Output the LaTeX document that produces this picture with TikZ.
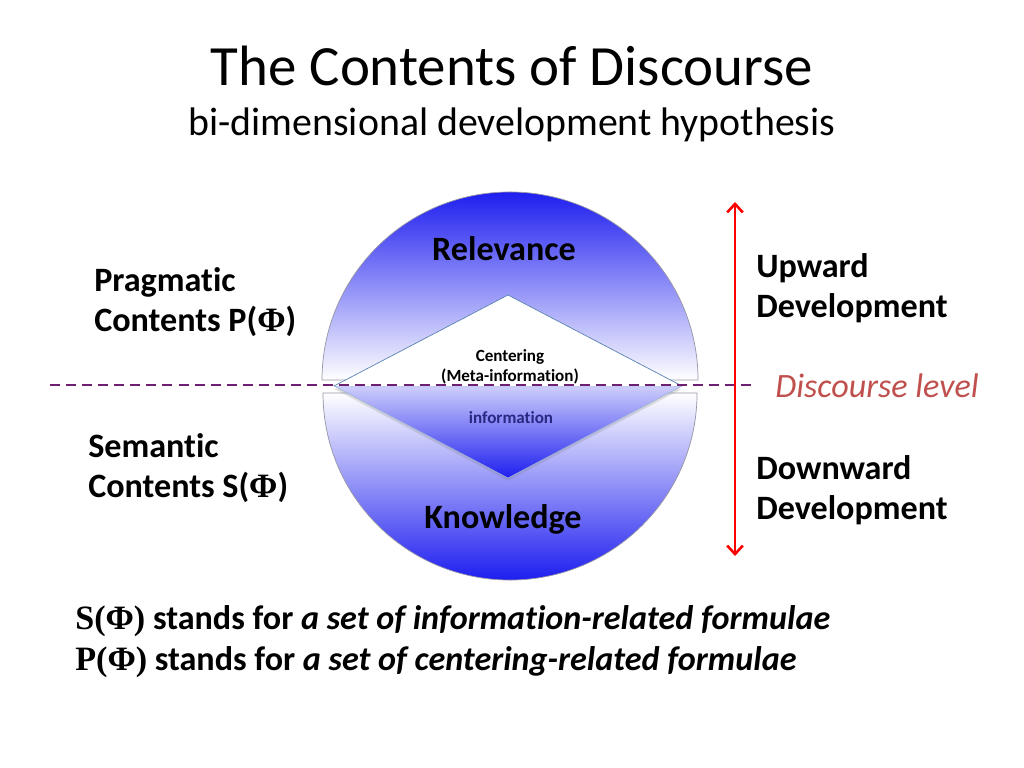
\documentclass[tikz,border=0pt]{standalone}
\usepackage{fontspec}
\setmainfont{Carlito}[Ligatures=NoCommon]
\newfontfamily\phifont{Liberation Serif}
\usetikzlibrary{arrows.meta, positioning, shadows}
\definecolor{discblue}{RGB}{30,30,240}
\definecolor{lvlpurple}{RGB}{112,32,112}
\definecolor{lvlred}{RGB}{192,80,77}
\definecolor{infonavy}{RGB}{40,40,130}
\definecolor{edgegray}{RGB}{150,150,165}
\definecolor{diamedge}{RGB}{90,130,180}
\newcommand{\phib}{{\phifont\bfseries Φ}}
\newcommand{\fsz}[2]{\fontsize{#1}{#2}\selectfont}

\begin{document}
\begin{tikzpicture}[x=0.703125pt, y=-0.703125pt,
    lbl/.style={inner sep=0pt, align=left, anchor=west, font=\fsz{24}{28.5}\bfseries},
    half/.style={draw=edgegray, line width=0.5pt}]
  \useasboundingbox (0,0) rectangle (1024,768);

  % title
  \node[font=\fsz{40}{48}] (title) at (512,66) {The Contents of Discourse};
  \node[font=\fsz{28}{34}] (subtitle) at (512,125) {bi-dimensional development hypothesis};

  % two halves of the disc
  \shade[half, top color=discblue, middle color=discblue!60!white, bottom color=white]
    (322,380) arc[start angle=180, end angle=0, radius=132.2pt] -- cycle;
  \shade[half, top color=white, middle color=discblue!60!white, bottom color=discblue]
    (323,393) arc[start angle=180, end angle=360, radius=131.5pt] -- cycle;

  % centering diamond
  \coordinate (dT) at (508,295);
  \coordinate (dL) at (334,386);
  \coordinate (dR) at (682,386);
  \coordinate (dB) at (508,478);
  \shade[top color=discblue!22!white, bottom color=discblue, draw=diamedge!60, line width=0.4pt,
    drop shadow={shadow xshift=0pt, shadow yshift=-2pt, opacity=0.25}]
    (dL) -- (dR) -- (dB) -- cycle;
  \fill[white] (dL) -- (dT) -- (dR) -- cycle;
  \draw[diamedge, line width=0.5pt] (dL) -- (dT) -- (dR);

  \node[font=\fsz{24}{28}\bfseries] (relev) at (504,249) {Relevance};
  \node[font=\fsz{24}{28}\bfseries] (know) at (503,519) {Knowledge};
  \node[font=\fsz{12}{14}\bfseries, align=center, inner sep=0pt] (center) at (510,367)
    {Centering\\(Meta-information)};
  \node[font=\fsz{12}{14}\bfseries, text=infonavy] (info) at (511,418) {information};

  % discourse level
  \coordinate (lvlW) at (50,385);
  \coordinate (lvlE) at (755,385);
  \draw[lvlpurple, line width=1.6pt, dash pattern=on 7pt off 4.3pt] (lvlW) -- (lvlE);
  \node[font=\fsz{24}{28}\itshape, text=lvlred, anchor=west, inner sep=0pt] (level)
    at (775,386) {Discourse level};

  % development arrow
  \coordinate (arrT) at (735,202);
  \coordinate (arrB) at (735,556);
  \draw[red, line width=1.8pt, {Straight Barb[length=6pt,width=11pt]}-{Straight Barb[length=6pt,width=11pt]}]
    (arrT) -- (arrB);

  \node[lbl] (up) at (756,288) {Upward\\Development};
  \node[lbl] (down) at (756,490) {Downward\\Development};
  \node[lbl] (prag) at (94,302) {Pragmatic\\Contents P(\phib)};
  \node[lbl] (sem) at (88,468) {Semantic\\Contents S(\phib)};

  % legend lines
  \node[lbl, font=\fsz{24}{29}\bfseries] (legend) at (75,642)
    {{\phifont S(Φ)} stands for \textit{a set of information-related formulae}\\
     {\phifont P(Φ)} stands for \textit{a set of centering-related formulae}};
\end{tikzpicture}
\end{document}
